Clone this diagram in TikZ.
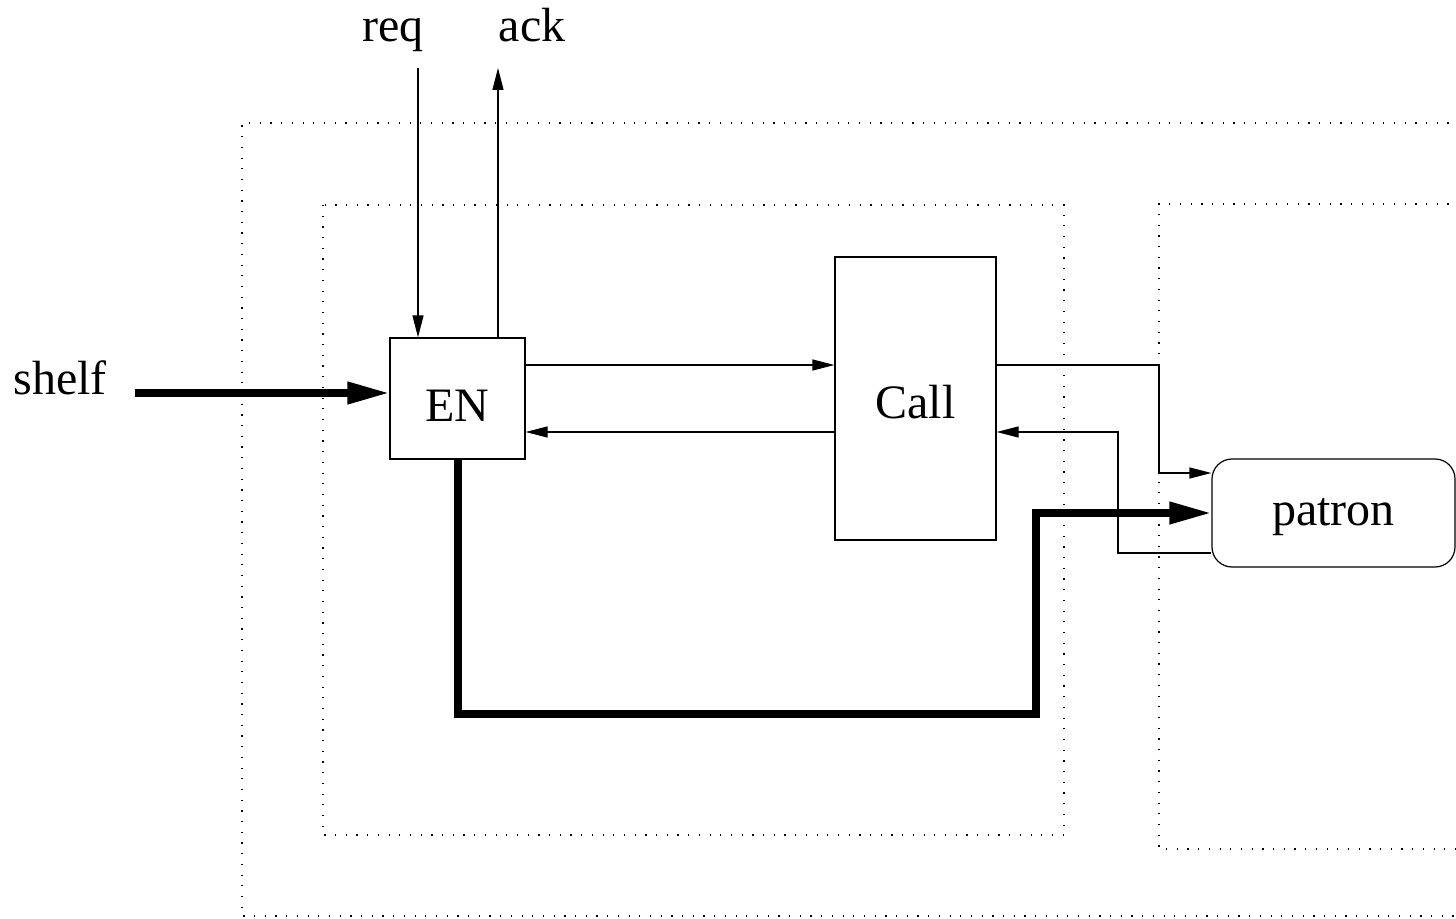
\documentclass[tikz,border=0pt]{standalone}
\usepackage{fontspec}
\setmainfont{Liberation Serif}
\usetikzlibrary{arrows.meta,calc}
\begin{document}
\begin{tikzpicture}[x=0.5pt,y=-0.5pt,
  thin/.style={line width=0.6pt},
  thick/.style={line width=3.6pt},
  dotbox/.style={line width=0.6pt,dash pattern=on 0.6pt off 4.75pt},
  tipthin/.style={-{Triangle[length=11pt,width=5.5pt]}},
  tipthick/.style={-{Triangle[length=21pt,width=10.5pt]}},
  lbl/.style={font=\fontsize{24}{28}\selectfont,inner sep=0pt},
  block/.style={draw,line width=0.6pt,font=\fontsize{24}{28}\selectfont,inner sep=0pt,text depth=0pt}
]
\useasboundingbox (0,0) rectangle (1456,919);
\clip (0,0) rectangle (1456,919);
% dotted boxes
\draw[dotbox] (1470,123) -- (242,123) -- (242,916) -- (1470,916);
\draw[dotbox] (323,205) rectangle (1064,835);
\draw[dotbox] (1470,204) -- (1159,204) -- (1159,849) -- (1470,849);
% blocks
\node[block,minimum width=67.5pt,minimum height=60.5pt,text height=23pt] (EN) at (457.5,398.5) {EN};
\node[block,minimum width=80.5pt,minimum height=141.5pt,text height=20.5pt] (Call) at (915.5,398.5) {Call};
\node[block,rounded corners=10pt,minimum width=121.5pt,minimum height=54pt,text height=12pt] (patron) at (1333.5,513) {patron};
% labels
\node[lbl,anchor=base] (req) at (393,42) {req};
\node[lbl,anchor=base] (ack) at (532,42) {ack};
\node[lbl,anchor=base] (shelf) at (60,394) {shelf};
% helper coordinates
\coordinate (reqtop) at (418,68);
\coordinate (acktop) at (498,68);
\coordinate (shelfend) at (135,393);
\coordinate (y365) at (0,365);
\coordinate (y432) at (0,432);
\coordinate (r1) at (1159,473);
\coordinate (r2) at (1118,553);
\coordinate (t1) at (458,714);
\coordinate (t2) at (1036,513);
% connectors
\draw[thin,tipthin] (reqtop) -- (reqtop |- EN.north);
\draw[thin,tipthin] (acktop |- EN.north) -- (acktop);
\draw[thick,tipthick] (shelfend) -- (EN.west |- shelfend);
\draw[thin,tipthin] (EN.east |- y365) -- (Call.west |- y365);
\draw[thin,tipthin] (Call.west |- y432) -- (EN.east |- y432);
\draw[thin,tipthin] (Call.east |- y365) -| (r1) -- (patron.west |- r1);
\draw[thin,tipthin] (patron.west |- r2) -| (r2 |- y432) -- (Call.east |- y432);
\draw[thick,tipthick] (EN.south -| t1) |- (t1 -| t2) -- (t2) -- (patron.west |- t2);
\end{tikzpicture}
\end{document}
